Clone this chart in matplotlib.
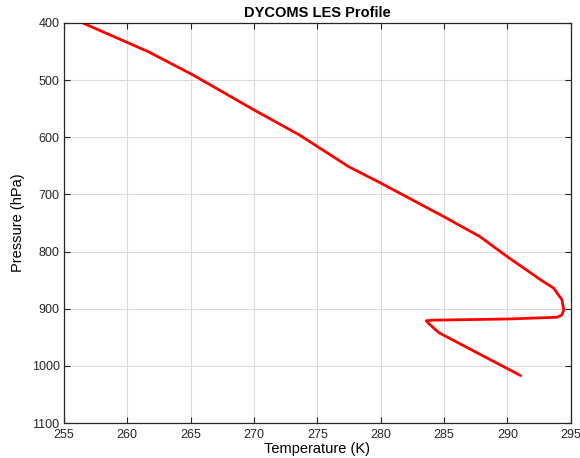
import matplotlib
matplotlib.use("Agg")
import matplotlib.pyplot as plt

# DYCOMS LES sounding
temp_k = [256.5, 261.65, 265.2, 270.0, 273.6, 277.45, 280.0, 285.0, 287.85,
          290.0, 292.6, 293.65, 294.3, 294.45, 294.3, 293.9, 290.0, 284.2,
          283.6, 283.8, 284.6, 291.05]
pres_hpa = [400, 450, 491, 552, 596, 651, 680, 739, 774,
            809, 849, 864, 884, 902, 911, 915, 918, 920,
            921, 926, 942, 1017]

xticks = [255, 260, 265, 270, 275, 280, 285, 290, 295]
yticks = [400, 500, 600, 700, 800, 900, 1000, 1100]

plt.rcParams.update({"font.family": ["Liberation Sans", "DejaVu Sans"],
                     "font.size": 10})

fig = plt.figure(figsize=(5.8, 4.58), dpi=100)
ax = fig.add_axes([0.110, 0.0764, 0.874, 0.8734])

ax.plot(temp_k, pres_hpa, color="#ff0000", linewidth=2.0,
        solid_joinstyle="round", solid_capstyle="round")

ax.set_xlim(255, 295)
ax.set_ylim(1100, 400)
ax.set_xticks(xticks)
ax.set_yticks(yticks)
ax.grid(True, color="#dcdcdc", linewidth=0.8)
ax.set_axisbelow(True)
ax.tick_params(direction="in", length=4, top=True, right=True,
               colors="#262626", labelsize=9, width=0.8)
ax.tick_params(axis="x", pad=4)
ax.tick_params(axis="y", pad=3)
for s in ax.spines.values():
    s.set_color("#262626")
    s.set_linewidth(0.9)

ax.set_xlabel("Temperature (K)", fontsize=10.5, labelpad=1)
ax.set_ylabel("Pressure (hPa)", fontsize=10.5, labelpad=5)
ax.set_title("DYCOMS LES Profile", fontsize=10.5, fontweight="bold", pad=4)

fig.savefig("out.png", dpi=100)
